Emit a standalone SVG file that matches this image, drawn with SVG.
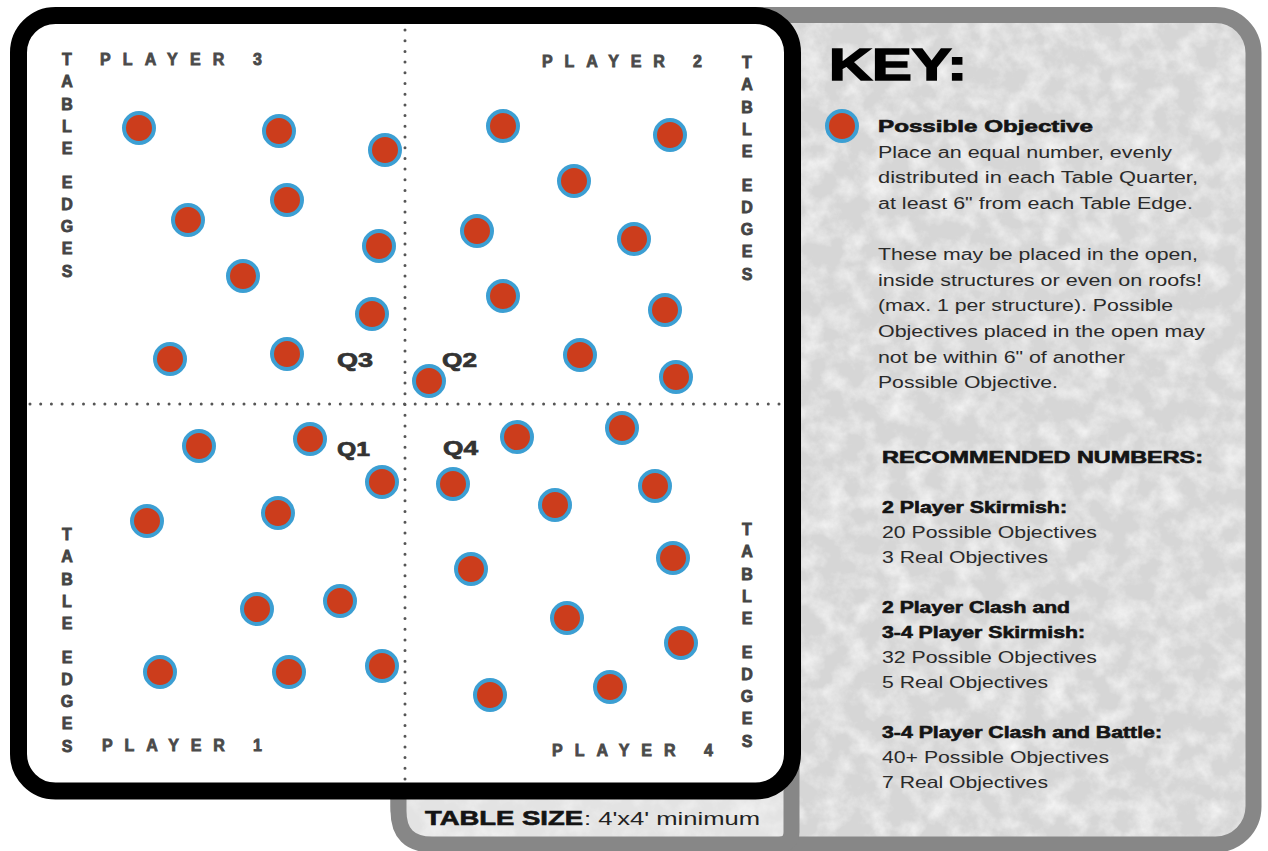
<svg xmlns="http://www.w3.org/2000/svg" xmlns:xlink="http://www.w3.org/1999/xlink" width="1268" height="851" viewBox="0 0 1268 851">
<style>
  .hv { font-family: "Liberation Sans", Arial, sans-serif; }
  .edge { font-family: "Liberation Sans", Arial, sans-serif; font-weight: bold; font-size: 16px; fill: #444; stroke: #444; stroke-width: 0.8; text-anchor: middle; }
  .player { font-family: "Liberation Sans", Arial, sans-serif; font-weight: bold; font-size: 16px; fill: #4a4a4a; stroke: #4a4a4a; stroke-width: 0.8; }
  .q { font-family: "Liberation Sans", Arial, sans-serif; font-weight: bold; font-size: 20px; fill: #333; stroke: #333; stroke-width: 0.7; }
  .body { font-family: "Liberation Sans", Arial, sans-serif; font-size: 16px; fill: #2a2a2a; }
  .num { font-family: "Liberation Sans", Arial, sans-serif; font-size: 16.5px; fill: #2a2a2a; }
  .bold { font-family: "Liberation Sans", Arial, sans-serif; font-weight: bold; font-size: 16px; fill: #141414; stroke: #141414; stroke-width: 0.6; }
  .obj { fill: #cc3d1c; stroke: #3c9fd3; stroke-width: 4; }
  .divider { fill: none; stroke: #555; stroke-width: 3; stroke-linecap: round; stroke-dasharray: 0 10.7; }
</style>
<defs>
  <filter id="grunge" x="0" y="0" width="100%" height="100%">
    <feTurbulence type="fractalNoise" baseFrequency="0.045" numOctaves="5" seed="7" result="n"/>
    <feColorMatrix in="n" type="matrix" values="0 0 0 0 1  0 0 0 0 1  0 0 0 0 1  1.4 0 0 0 -0.55"/>
  </filter>
  <clipPath id="panelClip"><rect x="398.5" y="15" width="855" height="829.5" rx="38"/></clipPath>
  <clipPath id="tabClip"><path d="M398.5 600 H791.5 V832 Q791.5 844.5 779 844.5 H432 Q398.5 844.5 398.5 811 Z"/></clipPath>
  <circle id="dot" r="15"/>
  <text id="edges" class="edge"><tspan x="0" y="0">T</tspan><tspan x="0" y="22.3">A</tspan><tspan x="0" y="44.6">B</tspan><tspan x="0" y="66.9">L</tspan><tspan x="0" y="89.2">E</tspan><tspan x="0" y="122.5">E</tspan><tspan x="0" y="144.8">D</tspan><tspan x="0" y="167.1">G</tspan><tspan x="0" y="189.4">E</tspan><tspan x="0" y="211.7">S</tspan></text>
</defs>

<!-- key panel -->
<g id="key-panel">
  <g clip-path="url(#panelClip)">
    <rect x="390" y="7" width="872" height="844" fill="#d6d6d6"/>
    <rect x="390" y="7" width="872" height="844" fill="#fff" filter="url(#grunge)"/>
  </g>
  <rect x="398.5" y="15" width="855" height="829.5" rx="38" fill="none" stroke="#878787" stroke-width="16"/>
</g>

<!-- table size tab -->
<g id="table-size-tab">
  <g clip-path="url(#tabClip)">
    <rect x="390" y="600" width="410" height="251" fill="#e3e3e3"/>
    <rect x="390" y="600" width="410" height="251" fill="#fff" opacity="0.7" filter="url(#grunge)"/>
  </g>
  <path d="M398.5 600 H791.5 V832 Q791.5 844.5 779 844.5 H432 Q398.5 844.5 398.5 811 Z" fill="none" stroke="#878787" stroke-width="16"/>
  <text x="425" y="825" class="bold" style="font-size:20px" textLength="158" lengthAdjust="spacingAndGlyphs">TABLE SIZE</text>
  <text x="584" y="825" class="hv" style="font-size:19px;fill:#222" textLength="176" lengthAdjust="spacingAndGlyphs">: 4'x4' minimum</text>
</g>

<!-- board -->
<g id="board">
  <rect x="18.5" y="15.5" width="774" height="775.5" rx="37" fill="#fff" stroke="#000" stroke-width="17"/>
</g>

<!-- quarter dividers -->
<g id="dividers">
  <line class="divider" x1="405" y1="30" x2="405" y2="782"/>
  <line class="divider" x1="30" y1="404" x2="785" y2="404"/>
</g>

<!-- table edge labels -->
<g id="table-edges">
  <use href="#edges" x="67" y="65"/>
  <use href="#edges" x="67" y="540"/>
  <use href="#edges" x="747" y="68"/>
  <use href="#edges" x="747" y="535"/>
</g>

<!-- player labels -->
<g id="players">
  <text class="player" x="100" y="65" textLength="162" lengthAdjust="spacing">PLAYER 3</text>
  <text class="player" x="542" y="67" textLength="160" lengthAdjust="spacing">PLAYER 2</text>
  <text class="player" x="102" y="751" textLength="160" lengthAdjust="spacing">PLAYER 1</text>
  <text class="player" x="552" y="756" textLength="161" lengthAdjust="spacing">PLAYER 4</text>
</g>

<!-- quarter labels -->
<g id="quarters">
  <text class="q" x="337" y="367" textLength="36" lengthAdjust="spacingAndGlyphs">Q3</text>
  <text class="q" x="442" y="367" textLength="35" lengthAdjust="spacingAndGlyphs">Q2</text>
  <text class="q" x="337" y="456" textLength="33" lengthAdjust="spacingAndGlyphs">Q1</text>
  <text class="q" x="443" y="455" textLength="35" lengthAdjust="spacingAndGlyphs">Q4</text>
</g>

<!-- possible objectives -->
<g id="objectives-q3" class="obj">
  <use href="#dot" x="139" y="128"/>
  <use href="#dot" x="279" y="131"/>
  <use href="#dot" x="385" y="150"/>
  <use href="#dot" x="188" y="220"/>
  <use href="#dot" x="287" y="200"/>
  <use href="#dot" x="379" y="246"/>
  <use href="#dot" x="243" y="276"/>
  <use href="#dot" x="372" y="314"/>
  <use href="#dot" x="170" y="359"/>
  <use href="#dot" x="287" y="354"/>
</g>
<g id="objectives-q2" class="obj">
  <use href="#dot" x="503" y="126"/>
  <use href="#dot" x="670" y="135"/>
  <use href="#dot" x="574" y="181"/>
  <use href="#dot" x="477" y="231"/>
  <use href="#dot" x="634" y="239"/>
  <use href="#dot" x="503" y="296"/>
  <use href="#dot" x="665" y="310"/>
  <use href="#dot" x="580" y="355"/>
  <use href="#dot" x="676" y="377"/>
  <use href="#dot" x="429" y="381"/>
</g>
<g id="objectives-q1" class="obj">
  <use href="#dot" x="199" y="446"/>
  <use href="#dot" x="310" y="439"/>
  <use href="#dot" x="382" y="482"/>
  <use href="#dot" x="147" y="521"/>
  <use href="#dot" x="278" y="513"/>
  <use href="#dot" x="257" y="609"/>
  <use href="#dot" x="340" y="601"/>
  <use href="#dot" x="160" y="672"/>
  <use href="#dot" x="289" y="672"/>
  <use href="#dot" x="382" y="666"/>
</g>
<g id="objectives-q4" class="obj">
  <use href="#dot" x="517" y="437"/>
  <use href="#dot" x="622" y="428"/>
  <use href="#dot" x="453" y="484"/>
  <use href="#dot" x="555" y="505"/>
  <use href="#dot" x="655" y="486"/>
  <use href="#dot" x="471" y="569"/>
  <use href="#dot" x="673" y="558"/>
  <use href="#dot" x="567" y="618"/>
  <use href="#dot" x="681" y="643"/>
  <use href="#dot" x="490" y="695"/>
  <use href="#dot" x="610" y="687"/>
</g>

<!-- key -->
<g id="key">
  <text x="829" y="80" class="hv" style="font-size:44px;font-weight:bold;fill:#000;stroke:#000;stroke-width:1.6" textLength="138" lengthAdjust="spacingAndGlyphs">KEY:</text>
  <use href="#dot" x="842" y="126" class="obj"/>
  <text class="bold" x="878" y="132" textLength="215" lengthAdjust="spacingAndGlyphs">Possible Objective</text>
  <text class="body" x="878" y="158" textLength="294" lengthAdjust="spacingAndGlyphs">Place an equal number, evenly</text>
  <text class="body" x="878" y="183" textLength="320" lengthAdjust="spacingAndGlyphs">distributed in each Table Quarter,</text>
  <text class="body" x="878" y="209" textLength="315" lengthAdjust="spacingAndGlyphs">at least 6" from each Table Edge.</text>
  <text class="body" x="878" y="260" textLength="320" lengthAdjust="spacingAndGlyphs">These may be placed in the open,</text>
  <text class="body" x="878" y="286" textLength="324" lengthAdjust="spacingAndGlyphs">inside structures or even on roofs!</text>
  <text class="body" x="878" y="311" textLength="295" lengthAdjust="spacingAndGlyphs">(max. 1 per structure). Possible</text>
  <text class="body" x="878" y="337" textLength="327" lengthAdjust="spacingAndGlyphs">Objectives placed in the open may</text>
  <text class="body" x="878" y="363" textLength="247" lengthAdjust="spacingAndGlyphs">not be within 6" of another</text>
  <text class="body" x="878" y="388" textLength="180" lengthAdjust="spacingAndGlyphs">Possible Objective.</text>

  <text class="bold" x="882" y="463" textLength="321" lengthAdjust="spacingAndGlyphs">RECOMMENDED NUMBERS:</text>
  <text class="bold" x="882" y="513" textLength="185" lengthAdjust="spacingAndGlyphs">2 Player Skirmish:</text>
  <text class="num" x="882" y="538" textLength="215" lengthAdjust="spacingAndGlyphs">20 Possible Objectives</text>
  <text class="num" x="882" y="563" textLength="166" lengthAdjust="spacingAndGlyphs">3 Real Objectives</text>
  <text class="bold" x="882" y="613" textLength="188" lengthAdjust="spacingAndGlyphs">2 Player Clash and</text>
  <text class="bold" x="882" y="638" textLength="203" lengthAdjust="spacingAndGlyphs">3-4 Player Skirmish:</text>
  <text class="num" x="882" y="663" textLength="215" lengthAdjust="spacingAndGlyphs">32 Possible Objectives</text>
  <text class="num" x="882" y="688" textLength="166" lengthAdjust="spacingAndGlyphs">5 Real Objectives</text>
  <text class="bold" x="882" y="738" textLength="280" lengthAdjust="spacingAndGlyphs">3-4 Player Clash and Battle:</text>
  <text class="num" x="882" y="763" textLength="227" lengthAdjust="spacingAndGlyphs">40+ Possible Objectives</text>
  <text class="num" x="882" y="788" textLength="166" lengthAdjust="spacingAndGlyphs">7 Real Objectives</text>
</g>
</svg>
